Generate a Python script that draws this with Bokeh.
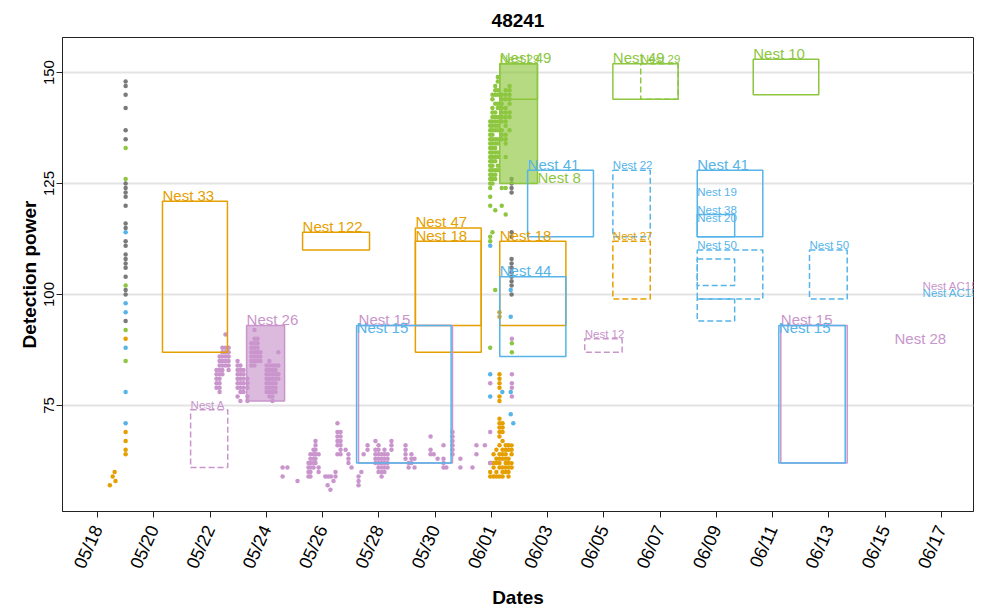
from bokeh.plotting import figure
from bokeh.models import ColumnDataSource, FixedTicker, Range1d
from bokeh.embed import file_html
from bokeh.resources import INLINE
from bokeh.core.properties import value

TITLE = "48241"
X_LABEL = "Dates"
Y_LABEL = "Detection power"

# x in days since 05/18 00:00
x_ticks = [0, 2, 4, 6, 8, 10, 12, 14, 16, 18, 20, 22, 24, 26, 28, 30]
x_tick_labels = ["05/18", "05/20", "05/22", "05/24", "05/26", "05/28", "05/30", "06/01",
                 "06/03", "06/05", "06/07", "06/09", "06/11", "06/13", "06/15", "06/17"]
y_ticks = [75, 100, 125, 150]

# detections: (day, [detection power values]) per colour group
gray_cols = [
    (1.00, [148, 147, 145, 142, 137, 135, 125, 124, 123, 122, 120, 116, 115, 112, 111, 109, 108,
            107, 106, 104, 101, 100, 94]),
    (14.72, [126, 125, 124, 123, 114, 113, 108, 107, 106, 105, 104, 103, 102, 100]),
]
green_cols = [
    (1.00, [133, 126, 102, 92, 85]),
    (13.96, [139, 138, 137, 136, 135, 134, 133, 132, 131, 130, 129, 128, 127, 126, 125, 124, 122, 120, 113, 112, 88]),
    (14.04, [145, 144, 142, 141, 140, 139, 138, 137, 136, 135, 134, 133, 132, 131, 130, 129, 128, 127, 126, 125, 114]),
    (14.14, [147, 146, 145, 143, 141, 140, 139, 138, 137, 135, 134, 133, 132, 131, 130, 128, 127, 126, 119, 101]),
    (14.23, [149, 148, 146, 145, 143, 142, 140, 139, 138, 137, 135, 134, 132, 131, 129, 128]),
    (14.37, [145, 144, 143, 142, 141, 140, 139, 137, 136, 135, 124, 120]),
    (14.51, [146, 145, 144, 142, 141, 140, 139, 138, 136, 135, 134, 131, 124, 118]),
    (14.65, [147, 146, 145, 144, 143, 141, 140, 137]),
    (14.73, [89, 87]),
]
blue_cols = [
    (1.00, [114, 98, 96, 88, 78, 71]),
    (13.96, [111, 82, 77]),
    (14.39, [78]),
    (14.69, [101, 95, 78, 73]),
    (14.78, [71]),
]
orange_cols = [
    (0.44, [57]), (0.54, [59]), (0.61, [60]), (0.64, [58]),
    (1.00, [90, 69, 67, 65, 64]),
    (13.96, [62, 60, 59]),
    (14.08, [64, 62, 61, 59]),
    (14.18, [65, 63, 62, 60, 59]),
    (14.29, [96, 95, 82, 81, 80, 79, 77, 76, 72, 71, 70, 69, 68, 66, 64, 63, 62, 61, 59]),
    (14.40, [71, 70, 69, 67, 65, 64, 63, 61, 60, 59]),
    (14.51, [66, 65, 64, 63, 62, 61, 60]),
    (14.61, [66, 65, 63, 62, 61, 60, 59]),
    (14.72, [66, 65, 64, 62, 61]),
]
pink_cols = [
    (4.23, [79, 80, 81, 82, 83]),
    (4.34, [78, 79, 80, 81, 82, 83, 84, 85, 86]),
    (4.44, [82, 83, 84, 85, 86, 87, 88]),
    (4.55, [84, 85, 86, 87, 88, 91]),
    (4.66, [83, 84, 85, 86, 87, 88]),
    (4.98, [77, 79, 80, 81, 82, 83, 84, 85]),
    (5.08, [76, 78, 79, 80, 81, 82, 83, 84]),
    (5.19, [78, 79, 80, 81, 82, 83]),
    (5.33, [76, 77, 79, 80, 81]),
    (5.47, [84, 85, 86, 87, 88, 89]),
    (5.58, [84, 85, 86, 87, 88, 89, 90, 92]),
    (5.69, [85, 86, 87, 88, 89, 90]),
    (5.79, [85, 86, 87]),
    (6.01, [78, 79, 80, 81, 82, 83, 84]),
    (6.11, [77, 78, 79, 80, 81, 82, 83, 84, 85]),
    (6.22, [76, 77, 78, 79, 80, 81, 82, 83, 84]),
    (6.33, [78, 79, 80, 81, 82, 83, 84]),
    (6.43, [81, 82, 84, 87]),
    (6.58, [61, 59]), (6.75, [61]), (7.11, [58]),
    (7.50, [62, 61, 60, 59]),
    (7.57, [64, 63, 62, 61, 60, 59]),
    (7.68, [65, 64, 63, 62, 61]),
    (7.75, [67, 66, 65, 64, 63, 62]),
    (7.86, [64, 61, 60]),
    (8.10, [59]), (8.18, [57]), (8.20, [59]), (8.28, [56]), (8.30, [59]),
    (8.39, [58]), (8.46, [60, 59]),
    (8.53, [71, 69, 68, 67, 66, 64]),
    (8.64, [69, 68, 67, 66, 65, 64]),
    (8.82, [65]), (8.92, [64, 63, 62]), (9.03, [61]),
    (9.28, [59, 58, 57]), (9.38, [60]), (9.46, [64]), (9.60, [66, 65]),
    (9.88, [67, 65, 64, 63, 62]),
    (9.99, [66, 65, 64, 63, 62, 61, 60]),
    (10.10, [64, 63, 62, 61, 60, 59]),
    (10.20, [65, 64, 63, 62, 61, 60]),
    (10.31, [64, 63, 62, 61]),
    (10.45, [67, 66, 65]),
    (10.95, [66, 65, 64, 63]), (11.06, [62, 61]), (11.16, [64, 63, 62]), (11.27, [63, 61]),
    (11.84, [68, 65, 64]), (11.95, [64]), (12.09, [63]),
    (12.30, [66, 63, 62, 61]), (12.40, [61]),
    (12.62, [69, 68, 67, 66, 65, 64]),
    (12.90, [63, 61]), (13.33, [61]), (13.47, [66, 64]), (13.77, [66]),
    (13.96, [80, 69, 62]),
    (14.73, [90, 82, 80, 79, 77]),
]

# nest boxes
box_name = ["Nest 33", "Nest 122", "Nest 47", "Nest 18", "Nest 26", "Nest A", "Nest 15", "Nest 15",
            "Nest 29", "Nest 49", "Nest 18", "Nest 44", "Nest 41", "Nest 12", "Nest 22", "Nest 27",
            "Nest 49", "Nest 29", "Nest 10", "Nest 41", "Nest 38", "Nest 50", "", "", "Nest 50",
            "Nest 15", "Nest 15"]
box_group = ["or", "or", "or", "or", "pk", "pk", "pk", "bl",
             "gr", "gr", "or", "bl", "bl", "pk", "bl", "or",
             "gr", "gr", "gr", "bl", "bl", "bl", "bl", "bl", "bl",
             "pk", "bl"]
box_kind = ["solid", "solid", "solid", "solid", "fill", "dashed", "solid", "solid",
            "solid", "fill", "solid", "solid", "solid", "dashed", "dashed", "dashed",
            "solid", "dashed", "solid", "solid", "solid", "dashed", "dashed", "dashed", "dashed",
            "solid", "solid"]
box_start = [2.31, 7.29, 11.30, 11.30, 5.30, 3.31, 9.28, 9.21,
             14.30, 14.30, 14.30, 14.30, 15.29, 17.32, 18.32, 18.32,
             18.32, 19.31, 23.31, 21.32, 21.32, 21.32, 21.32, 21.32, 25.31,
             24.29, 24.22]
box_end = [4.62, 9.67, 13.64, 13.64, 6.65, 4.63, 12.62, 12.57,
           15.64, 15.64, 16.65, 16.65, 17.63, 18.65, 19.65, 19.65,
           20.64, 20.64, 25.64, 23.65, 22.65, 23.65, 22.65, 22.65, 26.65,
           26.65, 26.58]
box_low = [87, 110, 87, 93, 76, 61, 62, 62,
           144, 125, 93, 86, 113, 87, 113, 99,
           144, 144, 145, 113, 113, 99, 102, 94, 99,
           62, 62]
box_high = [121, 114, 115, 112, 93, 74, 93, 93,
            152, 152, 112, 104, 128, 90, 128, 112,
            152, 152, 153, 128, 118, 110, 108, 99, 110,
            93, 93]
box_label_y = [121, 114, 115, 112, 93, 74, 93, 91.2,
               152, 152, 112, 104, 128, 90, 128, 112,
               152, 152, 153, 128, 118, 110, 108, 99, 110,
               93, 91.2]
box_small = [False, False, False, False, False, True, False, False,
             True, False, False, False, False, True, True, True,
             False, True, False, False, True, True, True, True, True,
             False, False]

# labels without a visible box
free_name = ["Nest 8", "Nest 19", "Nest 20", "Nest 28", "Nest AC15", "Nest AC15"]
free_group = ["gr", "bl", "bl", "pk", "pk", "bl"]
free_x = [15.64, 21.32, 21.32, 28.33, 29.33, 29.33]
free_y = [125, 122, 116, 88.7, 100.7, 99.1]
free_small = [False, True, True, False, True, True]

COLORS = {"or": "#E69F00", "bl": "#56B4E9", "gr": "#8DC63F", "pk": "#C995CC", "gy": "#7A7A7A"}
FONT = "Liberation Sans"

p = figure(width=986, height=610, x_range=Range1d(-1.244, 31.14), y_range=Range1d(51.1, 157.9),
           output_backend="svg", toolbar_location=None,
           min_border_left=62, min_border_right=13, min_border_top=37, min_border_bottom=99)

p.title.text = TITLE
p.title.align = "center"
p.title.text_font = FONT
p.title.text_font_size = "19px"
p.title.text_font_style = "bold"
p.title.text_color = "black"
p.title.standoff = 21

p.outline_line_color = "#222222"
p.outline_line_width = 1
p.background_fill_color = "white"
p.border_fill_color = "white"
p.xgrid.visible = False
p.ygrid.grid_line_color = "#E3E3E3"
p.ygrid.grid_line_width = 2

p.xaxis.ticker = FixedTicker(ticks=x_ticks)
p.xaxis.major_label_overrides = {t: l for t, l in zip(x_ticks, x_tick_labels)}
p.xaxis.major_label_orientation = 1.15
p.yaxis.ticker = FixedTicker(ticks=y_ticks)
p.yaxis.major_label_orientation = "vertical"
for ax in (p.xaxis, p.yaxis):
    ax.axis_line_color = "#222222"
    ax.major_tick_line_color = "#222222"
    ax.major_tick_out = 6
    ax.major_tick_in = 0
    ax.minor_tick_line_color = None
    ax.major_label_text_font = FONT
    ax.major_label_text_color = "black"
    ax.axis_label_text_font = FONT
    ax.axis_label_text_font_style = "bold"
    ax.axis_label_text_color = "black"
    ax.axis_label_text_font_size = "19px"
p.xaxis.major_label_text_font_size = "18px"
p.yaxis.major_label_text_font_size = "15px"
p.xaxis.axis_label = X_LABEL
p.yaxis.axis_label = Y_LABEL
p.xaxis.axis_label_standoff = 8
p.xaxis.major_label_standoff = 9
p.yaxis.axis_label_standoff = 2
p.yaxis.major_label_standoff = 2

# points
for grp, cols in (("gy", gray_cols), ("gr", green_cols), ("bl", blue_cols), ("or", orange_cols), ("pk", pink_cols)):
    xs, ys = [], []
    for d, vals in cols:
        xs.extend([d] * len(vals))
        ys.extend(vals)
    p.scatter(xs, ys, size=4.5, color=COLORS[grp], line_width=0)

# boxes
def subset(mask):
    idx = [i for i, m in enumerate(mask) if m]
    return ColumnDataSource(dict(
        left=[box_start[i] for i in idx], right=[box_end[i] for i in idx],
        bottom=[box_low[i] for i in idx], top=[box_high[i] for i in idx],
        color=[COLORS[box_group[i]] for i in idx]))

p.quad(source=subset([k == "fill" for k in box_kind]), left="left", right="right", bottom="bottom",
       top="top", fill_color="color", fill_alpha=0.65, line_color="color", line_width=1.5)
p.quad(source=subset([k == "solid" for k in box_kind]), left="left", right="right", bottom="bottom",
       top="top", fill_color=None, line_color="color", line_width=1.5)
p.quad(source=subset([k == "dashed" for k in box_kind]), left="left", right="right", bottom="bottom",
       top="top", fill_color=None, line_color="color", line_width=1.5, line_dash="6 3")

# labels
lab_x = box_start + free_x
lab_y = box_label_y + free_y
lab_t = box_name + free_name
lab_c = [COLORS[g] for g in box_group + free_group]
lab_s = box_small + free_small
for small, size, off in ((False, "15px", -6), (True, "11.5px", -5)):
    idx = [i for i, s in enumerate(lab_s) if s == small and lab_t[i]]
    src = ColumnDataSource(dict(x=[lab_x[i] for i in idx], y=[lab_y[i] for i in idx],
                                text=[lab_t[i] for i in idx], color=[lab_c[i] for i in idx]))
    p.text(x="x", y="y", text="text", source=src, text_color="color", text_font=value(FONT),
           text_font_size=size, text_baseline="alphabetic", text_align="left", y_offset=off)

open("out.html", "w").write(file_html(p, INLINE))
